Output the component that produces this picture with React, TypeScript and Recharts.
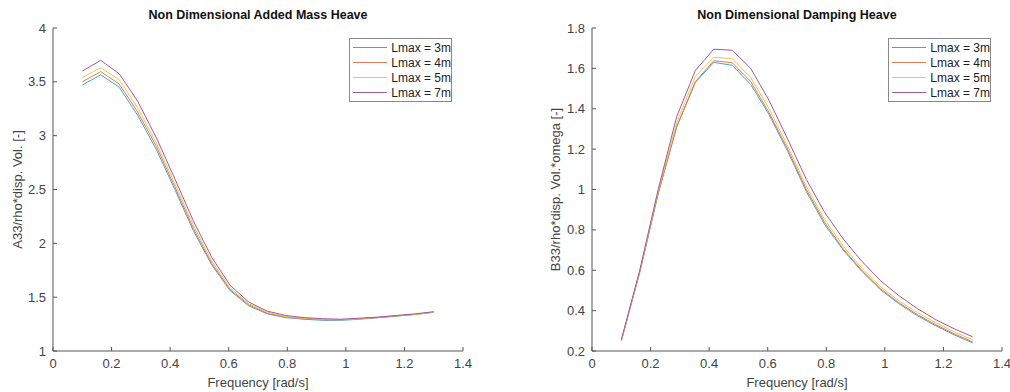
import React from 'react';
import { LineChart, Line, XAxis, YAxis, Label } from 'recharts';

// frequency samples [rad/s]
const freq = [
  0.1, 0.163, 0.226, 0.289, 0.353, 0.416, 0.479, 0.542, 0.605, 0.668,
  0.732, 0.795, 0.858, 0.921, 0.984, 1.047, 1.111, 1.174, 1.237, 1.3,
];

const seriesNames = ['Lmax = 3m', 'Lmax = 4m', 'Lmax = 5m', 'Lmax = 7m'];
const seriesColors = ['#4a9fd3', '#e07b4f', '#f1c44a', '#9a5aa8'];

// added mass heave
const a33L3 = [3.47, 3.565, 3.45, 3.19, 2.87, 2.5, 2.12, 1.8, 1.56, 1.42, 1.345, 1.31, 1.295, 1.285, 1.285, 1.295, 1.31, 1.325, 1.34, 1.36];
const a33L4 = [3.5, 3.595, 3.48, 3.22, 2.9, 2.525, 2.14, 1.815, 1.57, 1.43, 1.35, 1.315, 1.3, 1.29, 1.29, 1.3, 1.31, 1.325, 1.34, 1.36];
const a33L5 = [3.54, 3.63, 3.52, 3.26, 2.93, 2.555, 2.17, 1.835, 1.585, 1.44, 1.36, 1.32, 1.305, 1.295, 1.29, 1.3, 1.315, 1.33, 1.34, 1.36];
const a33L7 = [3.6, 3.7, 3.575, 3.32, 2.98, 2.6, 2.21, 1.87, 1.61, 1.455, 1.37, 1.33, 1.31, 1.3, 1.295, 1.305, 1.315, 1.33, 1.345, 1.365];

// damping heave
const b33L3 = [0.25, 0.59, 0.98, 1.31, 1.53, 1.63, 1.615, 1.52, 1.37, 1.19, 0.99, 0.825, 0.7, 0.595, 0.505, 0.435, 0.375, 0.325, 0.28, 0.24];
const b33L4 = [0.25, 0.59, 0.98, 1.31, 1.535, 1.638, 1.628, 1.535, 1.38, 1.2, 1.0, 0.835, 0.705, 0.6, 0.51, 0.44, 0.38, 0.33, 0.285, 0.245];
const b33L5 = [0.25, 0.595, 0.99, 1.33, 1.56, 1.655, 1.648, 1.555, 1.4, 1.215, 1.015, 0.85, 0.72, 0.61, 0.52, 0.45, 0.39, 0.34, 0.295, 0.255];
const b33L7 = [0.255, 0.6, 1.0, 1.36, 1.59, 1.695, 1.69, 1.6, 1.44, 1.25, 1.05, 0.885, 0.755, 0.645, 0.55, 0.475, 0.41, 0.355, 0.31, 0.27];

const xTicks = [0, 0.2, 0.4, 0.6, 0.8, 1, 1.2, 1.4];
const aTicks = [1, 1.5, 2, 2.5, 3, 3.5, 4];
const bTicks = [0.2, 0.4, 0.6, 0.8, 1, 1.2, 1.4, 1.6, 1.8];

const keys = ['s3', 's4', 's5', 's7'];

const buildRows = (cols: number[][]) =>
  freq.map((f, i) => {
    const row: Record<string, number> = { f };
    keys.forEach((k, j) => (row[k] = cols[j][i]));
    return row;
  });

const addedMass = buildRows([a33L3, a33L4, a33L5, a33L7]);
const damping = buildRows([b33L3, b33L4, b33L5, b33L7]);

const font = '"Liberation Sans", Arial, sans-serif';
const axisColor = '#555';
const tickStyle = { fontSize: 13, fill: '#444', fontFamily: font };

const LegendBox = ({ left }: { left: number }) => (
  <div
    style={{
      position: 'absolute',
      left,
      top: 38,
      border: '1px solid #888',
      background: '#fff',
      width: 103,
      height: 64,
      boxSizing: 'border-box',
      fontFamily: font,
      fontSize: 12,
      color: '#222',
      paddingTop: 1,
      whiteSpace: 'nowrap',
    }}
  >
    {seriesNames.map((n, i) => (
      <div key={n} style={{ display: 'flex', alignItems: 'center', height: 15 }}>
        <svg width={38} height={3} style={{ marginLeft: 3, marginRight: 4 }}>
          <line x1={0} y1={1.5} x2={38} y2={1.5} stroke={seriesColors[i]} strokeWidth={1.2} />
        </svg>
        <span>{n}</span>
      </div>
    ))}
  </div>
);

type PanelProps = {
  data: Record<string, number>[];
  yTicks: number[];
  yDomain: [number, number];
  yLabel: string;
  yAxisWidth: number;
  yLabelOffset: number;
  marginLeft: number;
  marginRight: number;
};

const Panel = ({ data, yTicks, yDomain, yLabel, yAxisWidth, yLabelOffset, marginLeft, marginRight }: PanelProps) => (
  <LineChart
    width={505}
    height={392}
    data={data}
    margin={{ top: 28, right: marginRight, bottom: 11, left: marginLeft }}
  >
    <XAxis
      dataKey="f"
      type="number"
      domain={[0, 1.4]}
      ticks={xTicks}
      allowDataOverflow
      stroke={axisColor}
      tickSize={-4}
      tickMargin={12}
      tick={tickStyle}
      height={30}
      interval={0}
    >
      <Label
        value="Frequency [rad/s]"
        position="insideBottom"
        offset={-6}
        style={{ fontSize: 13, fill: '#444', fontFamily: font }}
      />
    </XAxis>
    <YAxis
      type="number"
      domain={yDomain}
      ticks={yTicks}
      allowDataOverflow
      stroke={axisColor}
      tickSize={-4}
      tickMargin={11}
      tick={tickStyle}
      width={yAxisWidth}
      interval={0}
    >
      <Label
        value={yLabel}
        angle={-90}
        position="insideLeft"
        offset={yLabelOffset}
        style={{ fontSize: 13, fill: '#444', fontFamily: font, textAnchor: 'middle' }}
      />
    </YAxis>
    {keys.map((k, i) => (
      <Line
        key={k}
        dataKey={k}
        name={seriesNames[i]}
        type="linear"
        stroke={seriesColors[i]}
        strokeWidth={1}
        dot={false}
        isAnimationActive={false}
      />
    ))}
  </LineChart>
);

const titleStyle: React.CSSProperties = {
  position: 'absolute',
  top: 8,
  fontFamily: font,
  fontWeight: 'bold',
  fontSize: 12.5,
  color: '#111',
  textAlign: 'center',
  width: 410,
};

export default function App() {
  return (
    <div style={{ position: 'absolute', left: 0, top: 0, width: 1010, height: 392, background: '#fff', overflow: 'hidden' }}>
      <div style={{ position: 'absolute', left: 0, top: 0 }}>
        <Panel
          data={addedMass}
          yTicks={aTicks}
          yDomain={[1, 4]}
          yLabel="A33/rho*disp. Vol. [-]"
          yAxisWidth={45}
          yLabelOffset={9}
          marginLeft={8}
          marginRight={42}
        />
      </div>
      <div style={{ position: 'absolute', left: 505, top: 0 }}>
        <Panel
          data={damping}
          yTicks={bTicks}
          yDomain={[0.2, 1.8]}
          yLabel="B33/rho*disp. Vol.*omega [-]"
          yAxisWidth={50}
          yLabelOffset={13}
          marginLeft={37}
          marginRight={8}
        />
      </div>
      <LegendBox left={349} />
      <LegendBox left={888} />
      <div style={{ ...titleStyle, left: 53 }}>Non Dimensional Added Mass Heave</div>
      <div style={{ ...titleStyle, left: 592 }}>Non Dimensional Damping Heave</div>
    </div>
  );
}
